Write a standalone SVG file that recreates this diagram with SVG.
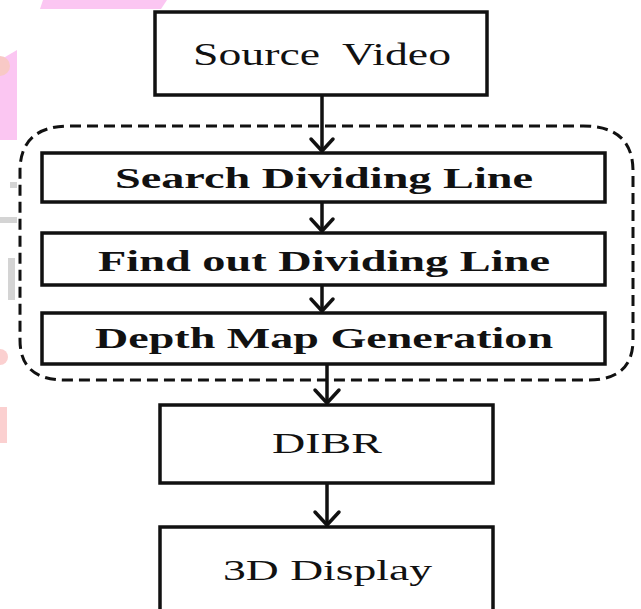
<svg xmlns="http://www.w3.org/2000/svg" width="641" height="609" viewBox="0 0 641 609">
  <style>
    .box { fill: #ffffff; stroke: #111111; stroke-width: 3.5; }
    .group { fill: none; stroke: #111111; stroke-width: 3; stroke-dasharray: 11 6; }
    .edge { fill: none; stroke: #111111; stroke-width: 3.5; }
    .head { fill: none; stroke: #111111; stroke-width: 3.5; stroke-linecap: round; stroke-linejoin: round; }
    .lbl { font-family: "Liberation Serif", "Times New Roman", serif; fill: #111111; }
    .bold { font-weight: bold; }
    .mark-p { fill: #fbc6f2; }
    .mark-g { fill: #d4d4d4; }
  </style>

  <rect width="641" height="609" fill="#ffffff"/>

  <!-- faint background marks along the left edge -->
  <g id="background-marks">
    <polygon class="mark-p" points="43,0 167,0 161,9 40,9"/>
    <polygon class="mark-p" points="0,60 17,50 17,140 0,140"/>
    <circle cx="0" cy="66" r="10" fill="#f8c9c6"/>
    <rect class="mark-g" x="10" y="182" width="7" height="6"/>
    <rect class="mark-g" x="0" y="217" width="17" height="6"/>
    <rect class="mark-g" x="8" y="258" width="7" height="42"/>
    <circle cx="0" cy="357" r="8" fill="#fbd0d0"/>
    <rect x="0" y="407" width="7" height="36" fill="#fbd0d0"/>
  </g>

  <!-- dashed grouping frame around the three processing steps -->
  <g id="processing-group">
    <path class="group" d="M70,126 H583 Q633,126 633,171 V340 Q633,380 588,380 H65 Q20,380 20,340 V171 Q20,126 70,126 Z"/>
  </g>

  <g id="connectors">
    <line class="edge" x1="322" y1="95" x2="322" y2="150"/>
    <polyline class="head" points="311,139 322,151 333,139"/>
    <line class="edge" x1="322" y1="202" x2="322" y2="230"/>
    <polyline class="head" points="311,219 322,231 333,219"/>
    <line class="edge" x1="322" y1="285" x2="322" y2="310"/>
    <polyline class="head" points="311,299 322,311 333,299"/>
    <line class="edge" x1="327" y1="364" x2="327" y2="402"/>
    <polyline class="head" points="315,390 327,403 339,390"/>
    <line class="edge" x1="327" y1="483" x2="327" y2="524"/>
    <polyline class="head" points="315,512 327,525 339,512"/>
  </g>

  <g id="source-video">
    <rect class="box" x="155" y="12" width="332" height="83"/>
    <text class="lbl" x="193" y="65" font-size="31" textLength="258" lengthAdjust="spacingAndGlyphs" xml:space="preserve">Source  Video</text>
  </g>

  <g id="search-dividing-line">
    <rect class="box" x="42" y="153" width="563" height="49"/>
    <text class="lbl bold" x="115" y="188" font-size="29" textLength="418" lengthAdjust="spacingAndGlyphs">Search Dividing Line</text>
  </g>

  <g id="find-dividing-line">
    <rect class="box" x="42" y="233" width="563" height="52"/>
    <text class="lbl bold" x="98" y="271" font-size="29" textLength="452" lengthAdjust="spacingAndGlyphs">Find out Dividing Line</text>
  </g>

  <g id="depth-map-generation">
    <rect class="box" x="42" y="313" width="563" height="51"/>
    <text class="lbl bold" x="95" y="348" font-size="29" textLength="458" lengthAdjust="spacingAndGlyphs">Depth Map Generation</text>
  </g>

  <g id="dibr">
    <rect class="box" x="160" y="405" width="333" height="78"/>
    <text class="lbl" x="272" y="453" font-size="29" textLength="110" lengthAdjust="spacingAndGlyphs">DIBR</text>
  </g>

  <g id="display-3d">
    <rect class="box" x="160" y="527" width="333" height="95"/>
    <text class="lbl" x="223" y="580" font-size="29" textLength="209" lengthAdjust="spacingAndGlyphs">3D Display</text>
  </g>
</svg>
